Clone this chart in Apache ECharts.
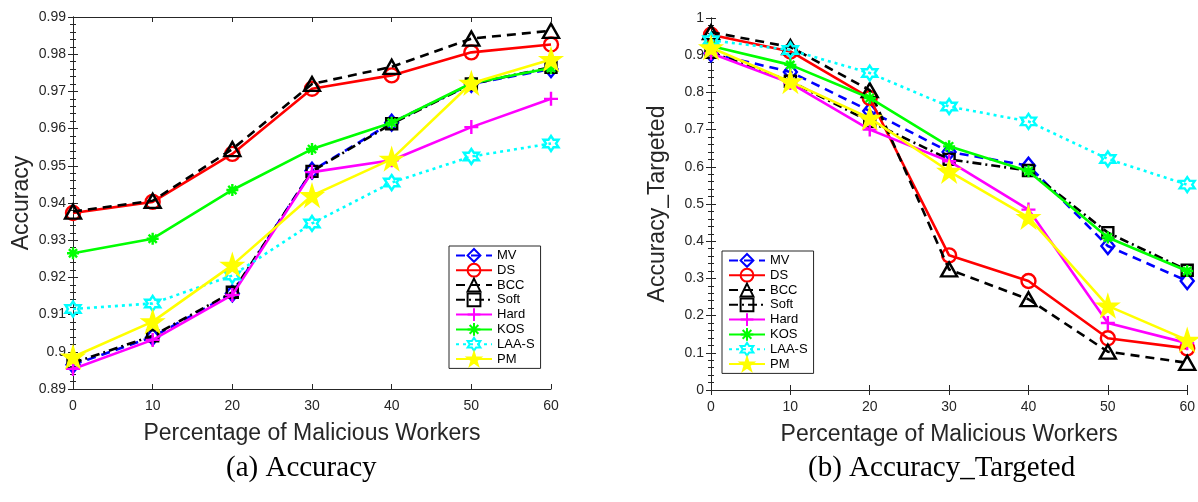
<!DOCTYPE html>
<html>
<head>
<meta charset="utf-8">
<script src="https://cdn.jsdelivr.net/npm/echarts@6/dist/echarts.min.js"></script>
<style>
html,body{margin:0;padding:0;background:#fff;}
#c{width:1198px;height:502px;}
</style>
</head>
<body>
<div id="c"></div>
<script>
// ---- data ----
const xValues = [0, 10, 20, 30, 40, 50, 60];
const seriesNames = ['MV', 'DS', 'BCC', 'Soft', 'Hard', 'KOS', 'LAA-S', 'PM'];

// (a) Accuracy
const accMV   = [0.8965, 0.9040, 0.9157, 0.9487, 0.9616, 0.9720, 0.9760];
const accDS   = [0.9373, 0.9403, 0.9532, 0.9707, 0.9743, 0.9805, 0.9826];
const accBCC  = [0.9377, 0.9406, 0.9545, 0.9720, 0.9766, 0.9842, 0.9863];
const accSoft = [0.8970, 0.9043, 0.9160, 0.9485, 0.9613, 0.9720, 0.9765];
const accHard = [0.8954, 0.9032, 0.9153, 0.9483, 0.9515, 0.9604, 0.9680];
const accKOS  = [0.9265, 0.9304, 0.9435, 0.9545, 0.9616, 0.9722, 0.9763];
const accLAA  = [0.9115, 0.9130, 0.9205, 0.9345, 0.9455, 0.9525, 0.9560];
const accPM   = [0.8986, 0.9081, 0.9233, 0.9420, 0.9518, 0.9722, 0.9786];

// (b) Accuracy_Targeted
const tgtMV   = [0.905, 0.855, 0.750, 0.640, 0.603, 0.387, 0.293];
const tgtDS   = [0.955, 0.910, 0.785, 0.362, 0.293, 0.139, 0.112];
const tgtBCC  = [0.962, 0.922, 0.806, 0.324, 0.244, 0.103, 0.073];
const tgtSoft = [0.908, 0.830, 0.722, 0.620, 0.590, 0.423, 0.322];
const tgtHard = [0.905, 0.825, 0.700, 0.615, 0.485, 0.180, 0.126];
const tgtKOS  = [0.925, 0.874, 0.785, 0.655, 0.588, 0.410, 0.320];
const tgtLAA  = [0.940, 0.914, 0.852, 0.762, 0.722, 0.621, 0.552];
const tgtPM   = [0.920, 0.829, 0.731, 0.588, 0.464, 0.226, 0.134];

const xTicks = { min: 0, max: 60, interval: 10 };
const yTicksA = { min: 0.89, max: 0.99, interval: 0.01 };
const yTicksB = { min: 0, max: 1, interval: 0.1 };

// ---- styles ----
const PLUS = 'path://M5,0L5,10M0,5L10,5';
const AST = 'path://M5,0L5,10M0,5L10,5M1.6,1.6L8.4,8.4M8.4,1.6L1.6,8.4';
const HEX = 'path://M5,0L6.443,2.5L9.33,2.5L7.887,5L9.33,7.5L6.443,7.5L5,10L3.557,7.5L0.67,7.5L2.113,5L0.67,2.5L3.557,2.5Z';
const STAR = 'path://M5,0L6.123,3.455L9.755,3.455L6.816,5.59L7.939,9.045L5,6.91L2.061,9.045L3.184,5.59L0.245,3.455L3.877,3.455Z';

const styles = {
  'MV':    { color: '#0000ff', dash: [9, 6], symbol: 'diamond', size: [13, 16], fill: 'transparent' },
  'DS':    { color: '#ff0000', dash: 'solid', symbol: 'circle', size: 14, fill: 'transparent' },
  'BCC':   { color: '#000000', dash: [9, 6], symbol: 'triangle', size: [16, 14], fill: 'transparent' },
  'Soft':  { color: '#000000', dash: [9, 4, 2, 4], symbol: 'rect', size: 11, fill: 'transparent' },
  'Hard':  { color: '#ff00ff', dash: 'solid', symbol: PLUS, size: 14, fill: 'transparent' },
  'KOS':   { color: '#00ff00', dash: 'solid', symbol: AST, size: 12, fill: 'transparent' },
  'LAA-S': { color: '#00ffff', dash: [3, 4], symbol: HEX, size: 15, fill: 'transparent' },
  'PM':    { color: '#ffff00', dash: 'solid', symbol: STAR, size: 19, fill: '#ffff00' }
};

const accData = [accMV, accDS, accBCC, accSoft, accHard, accKOS, accLAA, accPM];
const tgtData = [tgtMV, tgtDS, tgtBCC, tgtSoft, tgtHard, tgtKOS, tgtLAA, tgtPM];

const FONT = 'Liberation Sans';
const AX = '#262626';

function fmt(v) { return String(parseFloat(v.toFixed(2))); }

function makeSeries(arr, xi, yi) {
  return seriesNames.map((name, i) => {
    const s = styles[name];
    return {
      name: name,
      type: 'line',
      xAxisIndex: xi,
      yAxisIndex: yi,
      data: xValues.map((x, k) => [x, arr[i][k]]),
      symbol: s.symbol,
      symbolSize: s.size,
      showAllSymbol: true,
      lineStyle: { color: s.color, width: 2.6, type: s.dash },
      itemStyle: { color: s.fill, borderColor: s.color, borderWidth: 2.4 },
      emphasis: { disabled: true },
      animation: false,
      z: 3 + i
    };
  });
}

function xAxes(gi) {
  const base = {
    gridIndex: gi, type: 'value', min: xTicks.min, max: xTicks.max, interval: xTicks.interval,
    splitLine: { show: false },
    axisLine: { show: true, lineStyle: { color: AX, width: 1 } },
    axisTick: { show: true, inside: true, length: 5, lineStyle: { color: AX } }
  };
  return [
    Object.assign({}, base, {
      position: 'bottom',
      axisLabel: { show: true, color: AX, fontFamily: FONT, fontSize: 14, margin: 10 },
      name: 'Percentage of Malicious Workers',
      nameLocation: 'middle', nameGap: 33,
      nameTextStyle: { color: AX, fontFamily: FONT, fontSize: 23 }
    }),
    Object.assign({}, base, { position: 'top', axisLabel: { show: false } })
  ];
}

function yAxes(gi, t, name, gap) {
  const base = {
    gridIndex: gi, type: 'value', min: t.min, max: t.max, interval: t.interval,
    splitLine: { show: false },
    axisLine: { show: true, lineStyle: { color: AX, width: 1 } },
    axisTick: { show: true, inside: true, length: 5, lineStyle: { color: AX } },
    minorTick: { show: true, splitNumber: 5, length: 3, lineStyle: { color: AX } },
    minorSplitLine: { show: false }
  };
  return [
    Object.assign({}, base, {
      position: 'left',
      axisLabel: { show: true, color: AX, fontFamily: FONT, fontSize: 14, margin: 7, formatter: fmt },
      name: name, nameLocation: 'middle', nameGap: gap,
      nameTextStyle: { color: AX, fontFamily: FONT, fontSize: 23 }
    }),
    Object.assign({}, base, { position: 'right', axisLabel: { show: false } })
  ];
}

function legend(left, top) {
  return {
    orient: 'vertical', left: left, top: top,
    data: seriesNames,
    itemWidth: 36, itemHeight: 16, itemGap: 0,
    padding: [2, 6, 2, 6],
    borderColor: AX, borderWidth: 1, borderRadius: 0,
    backgroundColor: '#ffffff',
    textStyle: { color: '#000', fontFamily: FONT, fontSize: 13, padding: [0, 0, 0, 0] },
    selectedMode: false,
    z: 20
  };
}

const option = {
  backgroundColor: '#ffffff',
  animation: false,
  grid: [
    { left: 73, top: 17, width: 478, height: 372 },
    { left: 711, top: 18, width: 478, height: 372 }
  ],
  xAxis: xAxes(0).concat(xAxes(1)),
  yAxis: yAxes(0, yTicksA, 'Accuracy', 40).concat(yAxes(1, yTicksB, 'Accuracy_Targeted', 42)),
  legend: [legend(449, 246), legend(722, 251)],
  series: makeSeries(accData, 0, 0).concat(makeSeries(tgtData, 2, 2)),
  graphic: [
    { type: 'text', left: 226, top: 454, style: { text: '(a) Accuracy', font: '29px "Liberation Serif"', fill: '#000' } },
    { type: 'text', left: 808, top: 454, style: { text: '(b) Accuracy_Targeted', font: '29px "Liberation Serif"', fill: '#000' } }
  ]
};

const chart = echarts.init(document.getElementById('c'), null, { renderer: 'canvas' });
chart.setOption(option);
</script>
</body>
</html>
